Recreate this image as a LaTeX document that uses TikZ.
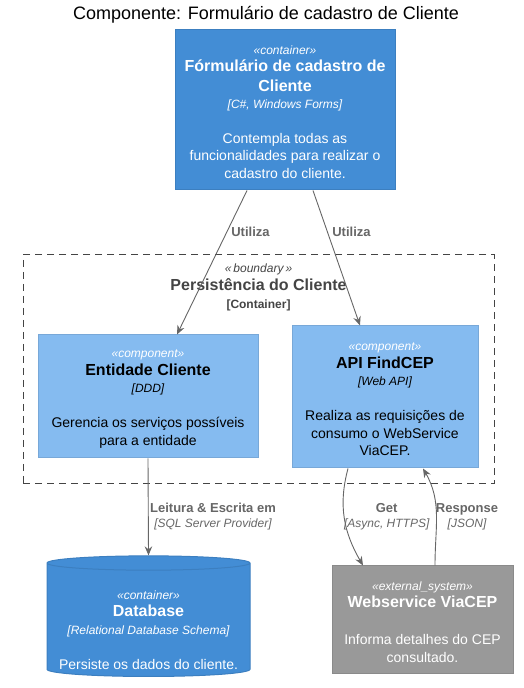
\documentclass[tikz,border=0pt]{standalone}
\usepackage{fontspec}
\setmainfont{Liberation Sans}
\usetikzlibrary{shapes.geometric,arrows.meta}

\definecolor{containerblue}{HTML}{438DD5}
\definecolor{containerline}{HTML}{3C7FC0}
\definecolor{componentblue}{HTML}{85BBF0}
\definecolor{componentline}{HTML}{78A8D8}
\definecolor{externalgray}{HTML}{999999}
\definecolor{externalline}{HTML}{8A8A8A}
\definecolor{relgray}{HTML}{666666}
\definecolor{boundarygray}{HTML}{444444}

\newcommand{\stereo}[1]{{\fontsize{12}{14}\selectfont\itshape\rule{0pt}{13pt}«#1»}}
\newcommand{\ename}[1]{{\fontsize{16}{18}\selectfont\bfseries #1}}
\newcommand{\etech}[1]{{\fontsize{12}{14}\selectfont\itshape #1}}

\tikzset{
  box/.style={rectangle, draw, line width=1pt, align=center, inner sep=0pt,
    font=\fontsize{14}{17.5}\selectfont},
  container/.style={box, fill=containerblue, draw=containerline, text=white},
  component/.style={box, fill=componentblue, draw=componentline, text=black},
  external/.style={box, fill=externalgray, draw=externalline, text=white},
  rel/.style={draw=relgray, line width=0.9pt, -{Stealth[length=9pt, width=7.5pt, inset=3pt]}},
  rellabel/.style={align=center, inner sep=0pt, text=relgray,
    font=\fontsize{13}{15}\selectfont\bfseries}
}

\begin{document}
\begin{tikzpicture}[x=1pt, y=1pt]
  \useasboundingbox (0,0) rectangle (523,688);
  % Header
  \node (title) at (266,673.5) {\fontsize{18}{20}\selectfont Componente: Formulário de cadastro de Cliente};
  % Boundary
  \node (bnd) [rectangle, draw=boundarygray, line width=1pt, dash pattern=on 7pt off 5pt,
    minimum width=471, minimum height=229] at (258.5,318.5) {};
  \node (bndtitle) [align=center, inner sep=0pt, text=boundarygray,
    font=\fontsize{16}{18}\selectfont\bfseries] at (258.5,400.5)
    {{\fontsize{12}{14}\selectfont\mdseries\itshape «\,boundary\,»}\\
     Persistência do Cliente\\
     {\fontsize{12}{14}\selectfont [Container]}};
  % Nodes
  \node (form) [container, minimum width=220, minimum height=160] at (285,578)
    {\stereo{container}\\ \ename{Fórmulário de cadastro de}\\[2pt] \ename{Cliente}\\
     \etech{[C\#, Windows Forms]}\\[17pt] Contempla todas as\\
     funcionalidades para realizar o\\ cadastro do cliente.};
  \node (ent) [component, minimum width=220, minimum height=123] at (148,291.5)
    {{\color{white}\stereo{component}}\\ \ename{Entidade Cliente}\\ \etech{[DDD]}\\[17.5pt]
     Gerencia os serviços possíveis\\ para a entidade};
  \node (api) [component, minimum width=186, minimum height=142] at (385,291)
    {{\color{white}\stereo{component}}\\ \ename{API FindCEP}\\ \etech{[Web API]}\\[17.5pt]
     Realiza as requisições de\\ consumo o WebService\\ ViaCEP.};
  \node (db) [cylinder, shape border rotate=90, aspect=0.08, draw=containerline,
    fill=containerblue, text=white, line width=1pt, align=center, inner sep=0pt,
    font=\fontsize{14}{17.5}\selectfont, minimum width=203, minimum height=116] at (148.5,68)
    {\mbox{}\\[11pt] \stereo{container}\\ \ename{Database}\\ \etech{[Relational Database Schema]}\\[17.5pt]
     Persiste os dados do cliente.};
  \node (ws) [external, minimum width=181, minimum height=108] at (422.5,68)
    {\stereo{external\_system}\\ \ename{Webservice ViaCEP}\\[19.5pt]
     Informa detalhes do CEP\\ consultado.};
  % Arrows
  \draw[rel] ([xshift=-38]form.south) -- ([xshift=29]ent.north);
  \draw[rel] ([xshift=28]form.south) -- ([xshift=-25]api.north);
  \draw[rel] (ent.south) -- (db.north);
  \draw[rel] ([xshift=-37]api.south) to[out=255, in=120] ([xshift=-59.5]ws.north);
  \draw[rel] ([xshift=12.5]ws.north) to[out=90, in=-60] ([xshift=38]api.south);
  % Labels
  \node (lblform1) [rellabel] at (250.5,456.5) {Utiliza};
  \node (lblform2) [rellabel] at (351.5,456.5) {Utiliza};
  \node (lbldb) [rellabel] at (213,171)
    {Leitura \& Escrita em\\ \etech{\mdseries[SQL Server Provider]}};
  \node (lblget) [rellabel] at (386.7,171)
    {Get\\ \etech{\mdseries[Async, HTTPS]}};
  \node (lblresp) [rellabel] at (467,171)
    {Response\\ \etech{\mdseries[JSON]}};
\end{tikzpicture}
\end{document}
